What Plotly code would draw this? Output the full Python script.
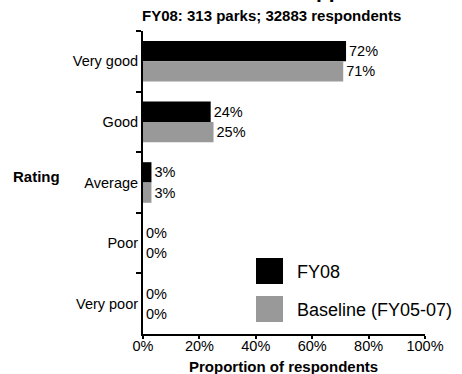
import plotly.graph_objects as go

# Survey ratings and the share of respondents giving each one (%)
ratings = ["Very good", "Good", "Average", "Poor", "Very poor"]
fy08 = [72, 24, 3, 0, 0]
baseline = [71, 25, 3, 0, 0]
x_ticks = [0, 20, 40, 60, 80, 100]
x_tick_labels = [f"{t}%" for t in x_ticks]

series_names = ["FY08", "Baseline (FY05-07)"]
series_colors = ["#000000", "#999999"]

FONT = "Liberation Sans, Arial, sans-serif"

fig = go.Figure()
for name, vals, col in zip(series_names, [fy08, baseline], series_colors):
    fig.add_trace(go.Bar(
        y=ratings, x=vals, orientation="h", name=name,
        marker=dict(color=col, line=dict(width=0)),
        text=[f"{v}%" for v in vals], textposition="outside",
        textfont=dict(family=FONT, size=14.5, color="#000"),
        constraintext="none", cliponaxis=False, showlegend=False,
    ))

fig.update_layout(
    width=462, height=374,
    margin=dict(l=143, r=37, t=31, b=40, autoexpand=False),
    paper_bgcolor="white", plot_bgcolor="white",
    barmode="group", bargap=0.33, bargroupgap=0,
    font=dict(family=FONT, size=14.5, color="#000"),
    xaxis=dict(
        range=[0, 100], tickmode="array", tickvals=x_ticks, ticktext=x_tick_labels,
        showgrid=False, zeroline=False, automargin=False,
        showline=True, linecolor="#000", linewidth=2,
        ticks="outside", ticklen=3, tickwidth=2, tickcolor="#000",
        ticklabelstandoff=-5,
        tickfont=dict(size=14.5),
    ),
    yaxis=dict(
        categoryorder="array", categoryarray=ratings, autorange="reversed",
        showgrid=False, zeroline=False, automargin=False,
        showline=True, linecolor="#000", linewidth=2,
        ticks="outside", tickson="boundaries", ticklen=5, tickwidth=2, tickcolor="#000",
        tickfont=dict(size=14.5),
    ),
)


def px_x(px):
    return (px - 143) / 282


def px_y(py):
    return (334 - py) / 303


# Headline (mostly above the visible page) and subtitle
fig.add_annotation(text="<b>Visitor satisfaction with opportunities</b>",
                   xref="paper", yref="paper", x=px_x(249), y=px_y(4), yanchor="bottom",
                   showarrow=False, font=dict(size=21))
fig.add_annotation(text="<b>FY08: 313 parks; 32883 respondents</b>",
                   xref="paper", yref="paper", x=px_x(271), y=px_y(16),
                   xanchor="center", yanchor="middle", showarrow=False, font=dict(size=15))
# Axis titles
fig.add_annotation(text="<b>Rating</b>", xref="paper", yref="paper",
                   x=px_x(36), y=px_y(176),
                   xanchor="center", yanchor="middle", showarrow=False, font=dict(size=15))
fig.add_annotation(text="<b>Proportion of respondents</b>", xref="paper", yref="paper",
                   x=px_x(283), y=px_y(366),
                   xanchor="center", yanchor="middle", showarrow=False, font=dict(size=15))

# Legend drawn with large swatches
for i, (name, col) in enumerate(zip(series_names, series_colors)):
    top = 258 + i * 38
    fig.add_shape(type="rect", xref="paper", yref="paper",
                  x0=px_x(256), x1=px_x(283), y0=px_y(top), y1=px_y(top + 26),
                  fillcolor=col, line=dict(width=0))
    fig.add_annotation(text=name, xref="paper", yref="paper",
                       x=px_x(295), y=px_y(top + 14),
                       xanchor="left", yanchor="middle", showarrow=False,
                       font=dict(size=18))

fig.write_html("out.html")
